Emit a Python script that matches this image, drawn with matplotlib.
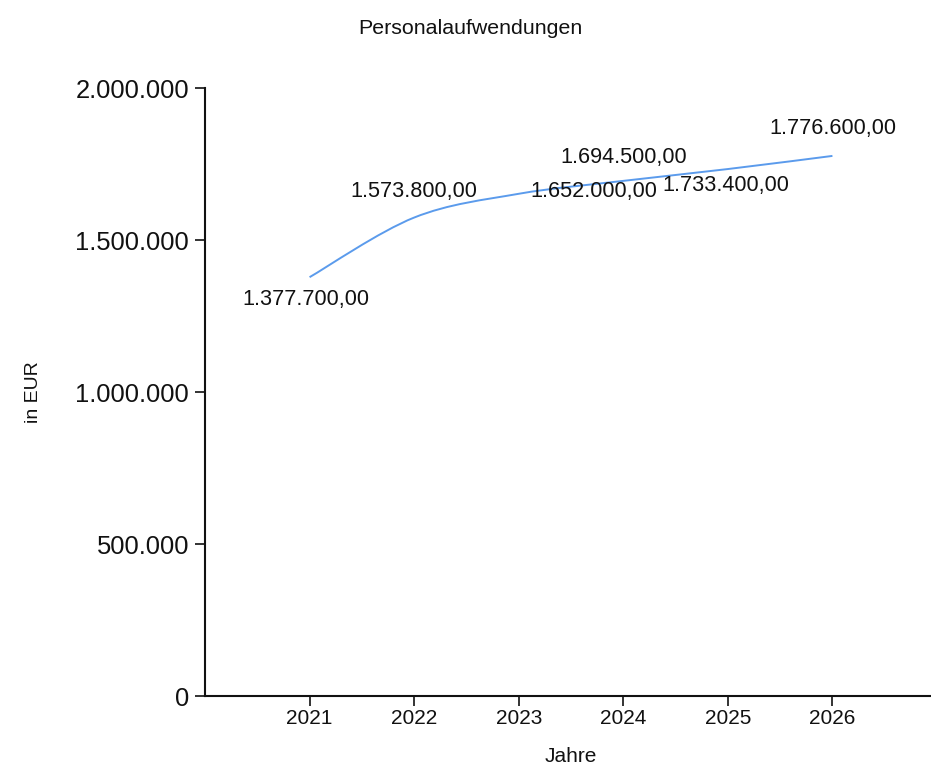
import matplotlib.pyplot as plt
from matplotlib.path import Path
from matplotlib.patches import PathPatch
from matplotlib.ticker import FuncFormatter

years = [2021, 2022, 2023, 2024, 2025, 2026]
values = [1377700, 1573800, 1652000, 1694500, 1733400, 1776600]
yticks = [0, 500000, 1000000, 1500000, 2000000]
# label offsets in pixels (dx, dy) and alignment per point
label_pos = [(-4, -22, 'center'), (0, 26, 'center'), (12, 2, 'left'),
             (0, 23, 'center'), (-2, -16, 'center'), (0, 27, 'center')]

plt.rcParams['font.family'] = ['Liberation Sans', 'DejaVu Sans']

def de_num(v, decimals=0):
    s = f"{v:,.{decimals}f}"
    return s.replace(',', 'X').replace('.', ',').replace('X', '.')

fig = plt.figure(figsize=(9.31, 7.69), dpi=100)
ax = fig.add_axes([205 / 931, 73 / 769, 732 / 931, 608 / 769])

# cardinal spline (tension 0.5) as cubic bezier path
n = len(years)
pts = list(zip(years, values))
verts = [pts[0]]
codes = [Path.MOVETO]
for i in range(n - 1):
    p0 = pts[i - 1] if i > 0 else pts[i]
    p1 = pts[i]
    p2 = pts[i + 1]
    p3 = pts[i + 2] if i + 2 < n else pts[i + 1]
    c1 = (p1[0] + (p2[0] - p0[0]) / 6, p1[1] + (p2[1] - p0[1]) / 6)
    c2 = (p2[0] - (p3[0] - p1[0]) / 6, p2[1] - (p3[1] - p1[1]) / 6)
    verts += [c1, c2, p2]
    codes += [Path.CURVE4] * 3
ax.add_patch(PathPatch(Path(verts, codes), fill=False, edgecolor='#5b9bec', linewidth=1.4))

for x, v, (dx, dy, ha) in zip(years, values, label_pos):
    ax.annotate(de_num(v, 2), (x, v), xytext=(dx, dy), textcoords='offset pixels',
                ha=ha, va='center', fontsize=15.6, color='#111111')

ax.set_xlim(2020, 2027)
ax.set_ylim(0, 2000000)
ax.set_xticks(years)
ax.set_yticks(yticks)
ax.yaxis.set_major_formatter(FuncFormatter(lambda v, p: de_num(v)))
ax.tick_params(axis='y', labelsize=18.4, length=7.5, width=1.2, pad=4, colors='#111111')
ax.tick_params(axis='x', labelsize=15, length=7, width=1.2, pad=2, colors='#111111')
for s in ['top', 'right']:
    ax.spines[s].set_visible(False)
for s in ['left', 'bottom']:
    ax.spines[s].set_linewidth(1.5)
    ax.spines[s].set_color('#111111')

ax.set_xlabel('Jahre', fontsize=15, labelpad=14, color='#111111')
ax.set_ylabel('in EUR', fontsize=14, labelpad=24, color='#111111')
fig.text(470 / 931, 1 - 28 / 769, 'Personalaufwendungen', ha='center', va='center',
         fontsize=15.4, color='#111111')

fig.savefig('out.png', dpi=100)
